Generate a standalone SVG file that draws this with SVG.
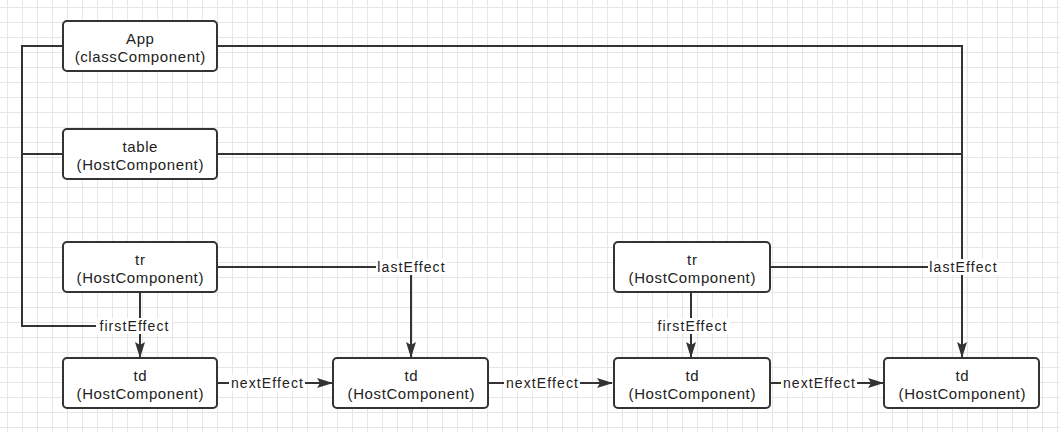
<svg xmlns="http://www.w3.org/2000/svg" width="1060" height="432" viewBox="0 0 1060 432">
  <defs>
    <pattern id="grid" x="7" y="7" width="15" height="15" patternUnits="userSpaceOnUse">
      <path d="M0.5,0 V15 M0,0.5 H15" fill="none" stroke="#e6e6e6" stroke-width="1"/>
    </pattern>
    <marker id="arrow" viewBox="0 0 16 10" refX="15" refY="5" markerWidth="16" markerHeight="10" markerUnits="userSpaceOnUse" orient="auto">
      <path d="M0,0 L16,5 L0,10 L3,5 Z" fill="#333333"/>
    </marker>
    <style>
      .node rect { fill: #ffffff; stroke: #333333; stroke-width: 2; }
      .node text { font-family: "Liberation Sans", "DejaVu Sans", sans-serif; font-size: 15px; letter-spacing: 0.6px; fill: #222222; text-anchor: middle; }
      .edge { fill: none; stroke: #333333; stroke-width: 2; }
      .lbl rect { fill: #ffffff; }
      .lbl text { font-family: "Liberation Sans", "DejaVu Sans", sans-serif; font-size: 14px; letter-spacing: 1.1px; fill: #222222; text-anchor: middle; dominant-baseline: central; }
    </style>
  </defs>
  <rect width="1060" height="432" fill="#ffffff"/>
  <rect width="1060" height="432" fill="url(#grid)"/>

  <g id="connectors">
    <!-- App / table to td1 via left rail -->
    <path class="edge" d="M63,46 H22 V326 H140"/>
    <path class="edge" d="M63,154 H22"/>
    <!-- tr1 -> td1 firstEffect -->
    <path class="edge" d="M140,292 V357" marker-end="url(#arrow)"/>
    <!-- App / table to td4 via right rail -->
    <path class="edge" d="M217,46 H962 V357" marker-end="url(#arrow)"/>
    <path class="edge" d="M217,154 H962"/>
    <!-- tr1 -> td2 lastEffect -->
    <path class="edge" d="M217,267 H411 V357" marker-end="url(#arrow)"/>
    <!-- tr2 -> td4 lastEffect -->
    <path class="edge" d="M770,267 H962"/>
    <!-- tr2 -> td3 firstEffect -->
    <path class="edge" d="M691,292 V357" marker-end="url(#arrow)"/>
    <!-- nextEffect chain -->
    <path class="edge" d="M217,383 H332" marker-end="url(#arrow)"/>
    <path class="edge" d="M488,383 H612" marker-end="url(#arrow)"/>
    <path class="edge" d="M770,383 H883" marker-end="url(#arrow)"/>

    <g class="lbl">
      <rect x="96" y="318" width="76" height="16"/>
      <text x="134.5" y="326">firstEffect</text>
      <rect x="654" y="318" width="76" height="16"/>
      <text x="692.5" y="326">firstEffect</text>
      <rect x="376" y="259" width="70" height="16"/>
      <text x="411.5" y="267">lastEffect</text>
      <rect x="928" y="259" width="70" height="16"/>
      <text x="963.5" y="267">lastEffect</text>
      <rect x="229" y="375" width="76" height="16"/>
      <text x="267.5" y="383">nextEffect</text>
      <rect x="504" y="375" width="76" height="16"/>
      <text x="542.5" y="383">nextEffect</text>
      <rect x="781" y="375" width="76" height="16"/>
      <text x="819.5" y="383">nextEffect</text>
    </g>
  </g>

  <g id="app" class="node">
    <rect x="63" y="21" width="154" height="50" rx="4"/>
    <text x="140.3" y="44">App</text>
    <text x="140.3" y="62">(classComponent)</text>
  </g>
  <g id="table" class="node">
    <rect x="63" y="129" width="154" height="50" rx="4"/>
    <text x="140.3" y="152">table</text>
    <text x="140.3" y="170">(HostComponent)</text>
  </g>
  <g id="tr1" class="node">
    <rect x="63" y="242" width="154" height="50" rx="4"/>
    <text x="140.3" y="265">tr</text>
    <text x="140.3" y="283">(HostComponent)</text>
  </g>
  <g id="td1" class="node">
    <rect x="63" y="358" width="154" height="50" rx="4"/>
    <text x="140.3" y="381">td</text>
    <text x="140.3" y="399">(HostComponent)</text>
  </g>
  <g id="td2" class="node">
    <rect x="333" y="358" width="155" height="50" rx="4"/>
    <text x="411.3" y="381">td</text>
    <text x="411.3" y="399">(HostComponent)</text>
  </g>
  <g id="tr2" class="node">
    <rect x="614" y="242" width="156" height="50" rx="4"/>
    <text x="692.3" y="265">tr</text>
    <text x="692.3" y="283">(HostComponent)</text>
  </g>
  <g id="td3" class="node">
    <rect x="614" y="358" width="156" height="50" rx="4"/>
    <text x="692.3" y="381">td</text>
    <text x="692.3" y="399">(HostComponent)</text>
  </g>
  <g id="td4" class="node">
    <rect x="884" y="358" width="155" height="50" rx="4"/>
    <text x="962.3" y="381">td</text>
    <text x="962.3" y="399">(HostComponent)</text>
  </g>
</svg>
